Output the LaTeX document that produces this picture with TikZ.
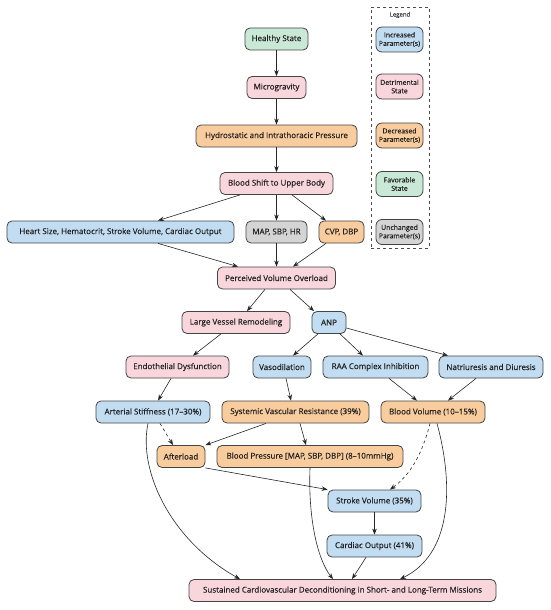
\documentclass[tikz,border=0pt]{standalone}
\usepackage{fontspec}
\setmainfont{Open Sans}[FakeBold=0.35]
\usetikzlibrary{arrows.meta}
\definecolor{cblue}{HTML}{C2DDF2}
\definecolor{cpink}{HTML}{F9D6DC}
\definecolor{corange}{HTML}{F9CC9D}
\definecolor{cgreen}{HTML}{C9E8D6}
\definecolor{cgray}{HTML}{D4D4D4}
\definecolor{cline}{HTML}{444444}
\definecolor{ctext}{HTML}{222222}
\tikzset{
  box/.style={draw=cline, line width=0.8pt, rounded corners=5pt, minimum height=22pt, inner sep=1pt, font=\fontsize{8}{9}\selectfont, text=ctext},
  bl/.style={box, fill=cblue},
  pk/.style={box, fill=cpink},
  og/.style={box, fill=corange},
  gn/.style={box, fill=cgreen},
  gy/.style={box, fill=cgray},
  lg/.style={box, minimum width=47pt, minimum height=25pt, align=center, inner sep=0.5pt, font=\fontsize{6.9}{8.4}\selectfont, rounded corners=6pt},
  w/.style={minimum width=#1pt},
  arr/.style={-{Stealth[length=6pt,width=4.5pt]}, line width=0.6pt, draw=black!85},
  darr/.style={arr, dashed}
}
\begin{document}
\begin{tikzpicture}[x=1pt,y=-1pt]
\useasboundingbox (0,0) rectangle (550,610);
% main nodes
\node[gn,w=63] (hs) at (276.5,39) {Healthy State};
\node[pk,w=59] (mg) at (276.5,87.5) {Microgravity};
\node[og,w=161] (hp) at (276.5,136) {Hydrostatic and Intrathoracic Pressure};
\node[pk,w=113] (bs) at (276.5,183.5) {Blood Shift to Upper Body};
\node[bl,w=227] (heart) at (120.5,232) {Heart Size, Hematocrit, Stroke Volume, Cardiac Output};
\node[gy,w=61] (map) at (276.5,232) {MAP, SBP, HR};
\node[og,w=45] (cvp) at (341.5,232) {CVP, DBP};
\node[pk,w=118] (pvo) at (276.5,278) {Perceived Volume Overload};
\node[pk,w=108] (lvr) at (236,322.5) {Large Vessel Remodeling};
\node[bl,w=34] (anp) at (329,322.5) {ANP};
\node[pk,w=103] (ed) at (177.5,367) {Endothelial Dysfunction};
\node[bl,w=58] (vd) at (282,367) {Vasodilation};
\node[bl,w=105] (raa) at (375.5,367) {RAA Complex Inhibition};
\node[bl,w=104] (nd) at (491,367) {Natriuresis and Diuresis};
\node[bl,w=114] (as) at (153,412) {Arterial Stiffness (17--30\%)};
\node[og,w=147] (svr) at (295.5,412) {Systemic Vascular Resistance (39\%)};
\node[og,w=104] (bv) at (433,412) {Blood Volume (10--15\%)};
\node[og,w=48] (al) at (181,456.5) {Afterload};
\node[og,w=186] (bp) at (310,456.5) {Blood Pressure [MAP, SBP, DBP] (8--10mmHg)};
\node[bl,w=93] (sv) at (374.5,501) {Stroke Volume (35\%)};
\node[bl,w=95] (co) at (374.5,546) {Cardiac Output (41\%)};
\node[pk,w=307] (sc) at (342.5,590.5) {Sustained Cardiovascular Deconditioning in Short- and Long-Term Missions};
% legend
\node[draw=black!70, dashed, line width=0.7pt, minimum width=58pt, minimum height=241pt, inner sep=0pt] (legbox) at (400,127.5) {};
\node[font=\fontsize{6}{7}\selectfont, text=black!75] (legt) at (400,15) {Legend};
\node[lg, fill=cblue] (l1) at (399.5,39.5) {Increased\\Parameter(s)};
\node[lg, fill=cpink] (l2) at (399.5,86.5) {Detrimental\\State};
\node[lg, fill=corange] (l3) at (399.5,135.5) {Decreased\\Parameter(s)};
\node[lg, fill=cgreen] (l4) at (399.5,184) {Favorable\\State};
\node[lg, fill=cgray] (l5) at (399.5,232) {Unchanged\\Parameter(s)};
% edges
\draw[arr] (hs) -- (mg);
\draw[arr] (mg) -- (hp);
\draw[arr] (hp) -- (bs);
\draw[arr] (bs.south -| 240,0) -- (heart.north -| 158,0);
\draw[arr] (bs) -- (map);
\draw[arr] (bs.south -| 292,0) -- (cvp.north -| 326,0);
\draw[arr] (heart.south -| 158,0) -- (pvo.north -| 238,0);
\draw[arr] (map) -- (pvo);
\draw[arr] (cvp.south -| 326,0) -- (pvo.north -| 293,0);
\draw[arr] (pvo.south -| 265,0) -- (lvr.north -| 247,0);
\draw[arr] (pvo.south -| 290,0) -- (anp.north -| 314,0);
\draw[arr] (lvr.south -| 221,0) -- (ed.north -| 193,0);
\draw[arr] (anp.south -| 318,0) -- (vd.north -| 293,0);
\draw[arr] (anp.south -| 340,0) -- (raa.north -| 363,0);
\draw[arr] (anp.east |- 0,328) -- (nd.north -| 448,0);
\draw[arr] (ed.south -| 171,0) -- (as.north -| 158,0);
\draw[arr] (vd.south -| 286,0) -- (svr.north -| 291,0);
\draw[arr] (raa.south -| 389,0) -- (bv.north -| 417,0);
\draw[arr] (nd.south -| 476,0) -- (bv.north -| 448,0);
\draw[darr] (as.south -| 160,0) -- (al.north -| 173,0);
\draw[arr] (svr.south -| 266,0) -- (al.north east);
\draw[arr] (svr.south -| 300,0) -- (bp.north -| 306,0);
\draw[darr] (bv.south -| 430,0) .. controls (422,455) and (410,475) .. (sv.north -| 390,0);
\draw[arr] (al.south east) -- (sv.north west);
\draw[arr] (sv) -- (co);
\draw[arr] (as.south -| 148,0) .. controls (138,470) and (170,540) .. (sc.north -| 240,0);
\draw[arr] (bp.south -| 310,0) .. controls (308,520) and (318,560) .. (sc.north -| 333,0);
\draw[arr] (co.south -| 366,0) -- (sc.north -| 352,0);
\draw[arr] (bv.south -| 437,0) .. controls (455,490) and (450,555) .. (sc.north -| 400,0);
\end{tikzpicture}
\end{document}
